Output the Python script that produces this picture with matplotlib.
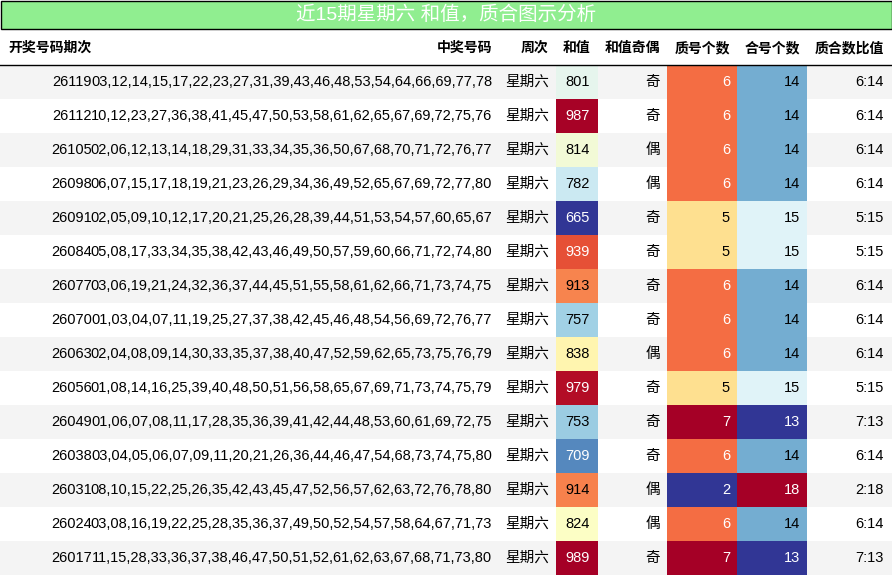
import matplotlib.pyplot as plt
from matplotlib.patches import Rectangle
from matplotlib import cm, colors
import numpy as np

plt.rcParams['font.family'] = ['Liberation Sans', 'Noto Sans CJK SC', 'DejaVu Sans']

title = "近15期星期六 和值，质合图示分析"
headers = ["开奖号码期次", "中奖号码", "周次", "和值", "和值奇偶", "质号个数", "合号个数", "质合数比值"]
issues = [26119, 26112, 26105, 26098, 26091, 26084, 26077, 26070, 26063, 26056, 26049, 26038, 26031, 26024, 26017]
numbers = [
    "03,12,14,15,17,22,23,27,31,39,43,46,48,53,54,64,66,69,77,78",
    "10,12,23,27,36,38,41,45,47,50,53,58,61,62,65,67,69,72,75,76",
    "02,06,12,13,14,18,29,31,33,34,35,36,50,67,68,70,71,72,76,77",
    "06,07,15,17,18,19,21,23,26,29,34,36,49,52,65,67,69,72,77,80",
    "02,05,09,10,12,17,20,21,25,26,28,39,44,51,53,54,57,60,65,67",
    "05,08,17,33,34,35,38,42,43,46,49,50,57,59,60,66,71,72,74,80",
    "03,06,19,21,24,32,36,37,44,45,51,55,58,61,62,66,71,73,74,75",
    "01,03,04,07,11,19,25,27,37,38,42,45,46,48,54,56,69,72,76,77",
    "02,04,08,09,14,30,33,35,37,38,40,47,52,59,62,65,73,75,76,79",
    "01,08,14,16,25,39,40,48,50,51,56,58,65,67,69,71,73,74,75,79",
    "01,06,07,08,11,17,28,35,36,39,41,42,44,48,53,60,61,69,72,75",
    "03,04,05,06,07,09,11,20,21,26,36,44,46,47,54,68,73,74,75,80",
    "08,10,15,22,25,26,35,42,43,45,47,52,56,57,62,63,72,76,78,80",
    "03,08,16,19,22,25,28,35,36,37,49,50,52,54,57,58,64,67,71,73",
    "11,15,28,33,36,37,38,46,47,50,51,52,61,62,63,67,68,71,73,80",
]
weekday = "星期六"
sums = [801, 987, 814, 782, 665, 939, 913, 757, 838, 979, 753, 709, 914, 824, 989]
parity = ["奇", "奇", "偶", "偶", "奇", "奇", "奇", "奇", "偶", "奇", "奇", "奇", "偶", "偶", "奇"]
primes = [6, 6, 6, 6, 5, 5, 6, 6, 6, 5, 7, 6, 2, 6, 7]
composites = [14, 14, 14, 14, 15, 15, 14, 14, 14, 15, 13, 14, 18, 14, 13]

W, H = 892, 576
fig = plt.figure(figsize=(W / 100, H / 100), dpi=100)
ax = fig.add_axes([0, 0, 1, 1])
ax.set_xlim(0, W)
ax.set_ylim(H, 0)
ax.axis('off')

cmap = cm.get_cmap('RdYlBu_r')

def cell_color(v, lo, hi):
    return cmap((v - lo) / (hi - lo))

def text_color(c):
    r, g, b = c[:3]
    lum = 0.299 * r + 0.587 * g + 0.114 * b
    return 'white' if lum < 0.6 else 'black'

# title bar
ax.add_patch(Rectangle((0.5, 0.5), W - 1, 28, facecolor='#90EE90', edgecolor='black', lw=1))
ax.text(W / 2, 15, title, ha='center', va='center', color='white', fontsize=14)

# header
hy = 48
ax.text(8, hy, headers[0], ha='left', va='center', fontsize=10, fontweight='bold')
ax.text(492, hy, headers[1], ha='right', va='center', fontsize=10, fontweight='bold')
ax.text(548, hy, headers[2], ha='right', va='center', fontsize=10, fontweight='bold')
ax.text(590, hy, headers[3], ha='right', va='center', fontsize=10, fontweight='bold')
ax.text(660, hy, headers[4], ha='right', va='center', fontsize=10, fontweight='bold')
ax.text(730, hy, headers[5], ha='right', va='center', fontsize=10, fontweight='bold')
ax.text(800, hy, headers[6], ha='right', va='center', fontsize=10, fontweight='bold')
ax.text(884, hy, headers[7], ha='right', va='center', fontsize=10, fontweight='bold')
ax.plot([0, W], [64.5, 64.5], color='black', lw=1)

top = 65
rh = 34
for i in range(len(issues)):
    y0 = top + i * rh
    yc = y0 + rh / 2
    bg = '#f4f4f4' if i % 2 == 0 else 'white'
    ax.add_patch(Rectangle((0, y0), W, rh, facecolor=bg, edgecolor='none'))
    sc = cell_color(sums[i], min(sums), max(sums))
    pc = cell_color(primes[i], min(primes), max(primes))
    cc = cell_color(composites[i], min(composites), max(composites))
    ax.add_patch(Rectangle((556, y0), 42, rh, facecolor=sc, edgecolor='none'))
    ax.add_patch(Rectangle((667, y0), 70, rh, facecolor=pc, edgecolor='none'))
    ax.add_patch(Rectangle((737, y0), 70, rh, facecolor=cc, edgecolor='none'))
    fs = 10.5
    ax.text(92, yc, str(issues[i]), ha='right', va='center', fontsize=fs)
    ax.text(492, yc, numbers[i], ha='right', va='center', fontsize=fs)
    ax.text(549, yc, weekday, ha='right', va='center', fontsize=fs)
    ax.text(590, yc, str(sums[i]), ha='right', va='center', fontsize=fs, color=text_color(sc))
    ax.text(660, yc, parity[i], ha='right', va='center', fontsize=fs)
    ax.text(730, yc, str(primes[i]), ha='right', va='center', fontsize=fs, color=text_color(pc))
    ax.text(800, yc, str(composites[i]), ha='right', va='center', fontsize=fs, color=text_color(cc))
    ax.text(884, yc, f"{primes[i]}:{composites[i]}", ha='right', va='center', fontsize=fs)

fig.savefig('out.png', dpi=100)
